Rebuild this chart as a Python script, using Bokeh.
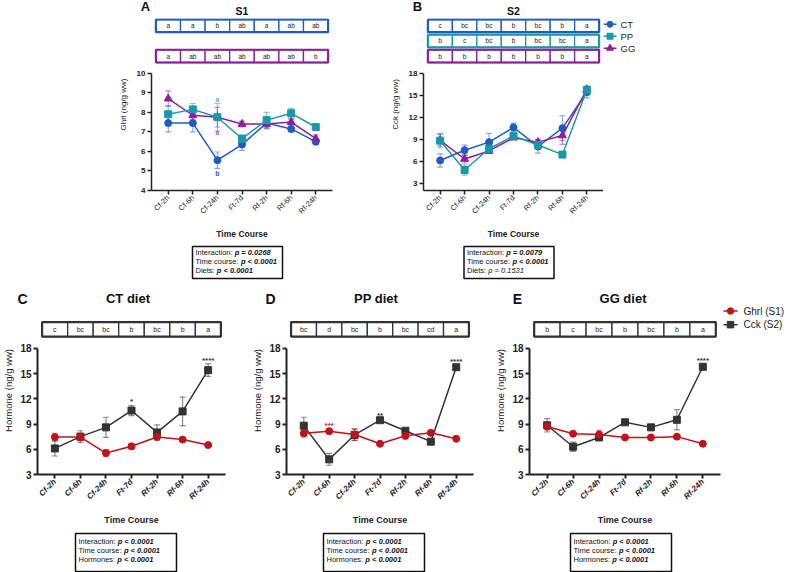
import math

from bokeh.core.properties import value
from bokeh.embed import file_html
from bokeh.layouts import column, row
from bokeh.models import ColumnDataSource, FixedTicker, Range1d, TeeHead, Whisker
from bokeh.plotting import figure
from bokeh.resources import INLINE

# ---------------------------------------------------------------- data
time_points = ["Cf-2h", "Cf-6h", "Cf-24h", "Ft-7d", "Rf-2h", "Rf-6h", "Rf-24h"]
diets = ["CT", "PP", "GG"]

# Ghrelin (S1), ng/g ww, mean and SEM
ghrl_ct = [7.45, 7.45, 5.55, 6.35, 7.45, 7.15, 6.5]
ghrl_ct_sem = [0.45, 0.45, 0.42, 0.3, 0.3, 0.15, 0.15]
ghrl_pp = [7.9, 8.15, 7.75, 6.65, 7.6, 7.95, 7.25]
ghrl_pp_sem = [0.45, 0.3, 0.7, 0.2, 0.4, 0.25, 0.1]
ghrl_gg = [8.7, 7.85, 7.75, 7.4, 7.4, 7.5, 6.65]
ghrl_gg_sem = [0.4, 0.2, 0.5, 0.15, 0.2, 0.15, 0.2]

# Cholecystokinin (S2), ng/g ww, mean and SEM
cck_ct = [6.1, 7.5, 8.6, 10.6, 8.0, 10.5, 15.4]
cck_ct_sem = [0.9, 0.7, 1.2, 0.6, 0.9, 1.7, 0.75]
cck_pp = [8.8, 4.8, 7.7, 9.45, 8.2, 6.9, 15.75]
cck_pp_sem = [1.0, 0.7, 0.65, 0.2, 0.2, 0.3, 0.3]
cck_gg = [8.85, 6.3, 7.4, 9.2, 8.6, 9.5, 15.8]
cck_gg_sem = [0.8, 0.55, 0.3, 0.2, 0.3, 1.2, 0.3]

# compact letter displays (time-course comparisons)
cld_s1_ct = ["a", "a", "b", "ab", "a", "ab", "ab"]
cld_s1_gg = ["a", "ab", "ab", "ab", "ab", "ab", "b"]
cld_s2_ct = ["c", "bc", "bc", "b", "bc", "b", "a"]
cld_s2_pp = ["b", "c", "bc", "b", "bc", "bc", "a"]
cld_s2_gg = ["b", "b", "b", "b", "b", "b", "a"]
cld_diet_ct = ["c", "bc", "bc", "b", "bc", "b", "a"]
cld_diet_pp = ["bc", "d", "bc", "b", "bc", "cd", "a"]
cld_diet_gg = ["b", "c", "bc", "b", "bc", "b", "a"]

# between-diet letters for ghrelin at Cf-24h: (diet, time index, letter, side)
s1_diet_letters = [("PP", 2, "a", "above"), ("GG", 2, "a", "below"), ("CT", 2, "b", "below")]

# Ghrl vs Cck significance stars per time point
stars_ghrl_ct = ["", "", "", "", "", "", ""]
stars_ghrl_pp = ["", "***", "", "", "", "", ""]
stars_ghrl_gg = ["", "", "", "", "", "", ""]
stars_cck_ct = ["", "", "", "*", "", "", "****"]
stars_cck_pp = ["", "", "", "**", "", "", "****"]
stars_cck_gg = ["", "", "", "", "", "", "****"]

# two-way ANOVA summaries
stats_s1 = [("Interaction: ", "p = 0.0268", "bold italic"),
            ("Time course: ", "p < 0.0001", "bold italic"),
            ("Diets: ", "p < 0.0001", "bold italic")]
stats_s2 = [("Interaction: ", "p = 0.0079", "bold italic"),
            ("Time course: ", "p < 0.0001", "bold italic"),
            ("Diets: ", "p = 0.1531", "italic")]
stats_diet = [("Interaction: ", "p < 0.0001", "bold italic"),
              ("Time course: ", "p < 0.0001", "bold italic"),
              ("Hormones: ", "p < 0.0001", "bold italic")]

# ---------------------------------------------------------------- style
FONT = "Liberation Sans"
BLUE = "#1f5cc0"
TEAL = "#1b98a8"
PURPLE = "#8d1f9b"
RED = "#c0121c"
DARK = "#333333"
AXIS = "#222222"

diet_color = {"CT": BLUE, "PP": TEAL, "GG": PURPLE}
diet_marker = {"CT": ("circle", 7), "PP": ("square", 7), "GG": ("triangle", 8)}

# Arial-metric advance widths (per 1000 em) for laying out mixed-style text
CHAR_W = {" ": 278, ":": 278, "I": 278, "T": 611, "D": 722, "H": 722, "a": 556,
          "c": 500, "e": 556, "i": 222, "m": 833, "n": 556, "o": 556, "r": 333,
          "s": 500, "t": 278, "u": 556}


def text_width(s, size):
    return sum(CHAR_W.get(ch, 556) for ch in s) * size / 1000.0


# figure geometry (px)
A_W, A_L, A_R = 385, 151, 53
B_W, B_L, B_R = 218, 38, 0
LEG_TOP_W = 790 - A_W - B_W
TOP_H, TOP_FRAME_H, TOP_GAP = 223, 176, 56
C_W, C_L, C_R = 249, 30, 24
D_W, D_L, D_R = 243, 29, 19
E_W, E_L, E_R = 229, 33, 1
LEG_BOT_W = 790 - C_W - D_W - E_W
BOT_H, BOT_FRAME_H, BOT_GAP = 222, 173, 43
X_PAD = 0.68


def frame_center(x0, w, left, right):
    return x0 + left + (w - left - right) / 2.0


def px_figure(w, h):
    p = figure(width=w, height=h, x_range=Range1d(0, w), y_range=Range1d(h, 0),
               x_axis_location=None, y_axis_location=None, toolbar_location=None,
               output_backend="svg", min_border_left=0, min_border_right=0,
               min_border_top=0, min_border_bottom=0)
    p.outline_line_color = None
    p.grid.visible = False
    p.xgrid.grid_line_color = None
    p.ygrid.grid_line_color = None
    return p


def panel_figure(w, h, left, right, frame_h, gap, y_lo, y_hi, y_ticks, y_label, big):
    top_val = y_hi + gap * (y_hi - y_lo) / (frame_h - gap)
    p = figure(width=w, height=h, x_range=Range1d(-X_PAD, len(time_points) - 1 + X_PAD),
               y_range=Range1d(y_lo, top_val), toolbar_location=None, output_backend="svg",
               min_border_left=left, min_border_right=right, min_border_top=0,
               min_border_bottom=h - frame_h)
    p.extra_y_ranges = {"px": Range1d(frame_h, 0)}
    p.grid.visible = False
    p.outline_line_color = None

    xa = p.xaxis[0]
    xa.ticker = FixedTicker(ticks=list(range(len(time_points))), minor_ticks=[])
    xa.major_label_overrides = {i: t for i, t in enumerate(time_points)}
    xa.major_label_orientation = math.pi / 4
    xa.axis_label = "Time Course"
    ya = p.yaxis[0]
    ya.ticker = FixedTicker(ticks=y_ticks, minor_ticks=[])
    ya.bounds = (y_lo, y_hi)
    ya.axis_label = y_label
    for ax in (xa, ya):
        ax.axis_line_color = AXIS
        ax.axis_line_width = 2 if big else 1.5
        ax.major_tick_line_color = AXIS
        ax.major_tick_line_width = 2 if big else 1.5
        ax.major_tick_in = 0
        ax.major_tick_out = 4
        ax.minor_tick_out = 0
        ax.major_label_text_font = FONT
        ax.major_label_text_color = AXIS
        ax.axis_label_text_font = FONT
        ax.axis_label_text_color = AXIS
        ax.major_label_standoff = 2
    xa.major_label_text_font_size = "8px" if big else "7.5px"
    xa.major_label_text_font_style = "bold italic" if big else "normal"
    xa.axis_label_text_font_size = "9px" if big else "8.5px"
    xa.axis_label_text_font_style = "bold"
    xa.axis_label_standoff = 8 if big else 7
    ya.major_label_text_font_size = "10px" if big else "8px"
    ya.major_label_text_font_style = "bold"
    ya.axis_label_text_font_size = "9.5px" if big else "8px"
    ya.axis_label_text_font_style = "normal"
    ya.axis_label_standoff = 3 if big else 6
    return p


def add_series(p, vals, errs, color, marker, size, err_alpha):
    xs = list(range(len(time_points)))
    src = ColumnDataSource(dict(x=xs, y=vals,
                                lo=[v - e for v, e in zip(vals, errs)],
                                hi=[v + e for v, e in zip(vals, errs)]))
    head = dict(size=6, line_color=color, line_alpha=err_alpha, line_width=1.2)
    p.add_layout(Whisker(source=src, base="x", upper="hi", lower="lo", line_color=color,
                         line_alpha=err_alpha, line_width=1.2,
                         upper_head=TeeHead(**head), lower_head=TeeHead(**head)))
    p.line("x", "y", source=src, line_color=color, line_width=1.5)
    p.scatter("x", "y", source=src, marker=marker, size=size, fill_color=color,
              line_color=color)


def add_letter_row(p, letters, color, top, h, font_size):
    xs = list(range(len(letters)))
    n = len(letters)
    p.quad(left=[x - 0.5 for x in xs], right=[x + 0.5 for x in xs], top=[top] * n,
           bottom=[top + h] * n, y_range_name="px", fill_color="white",
           line_color=color, line_width=1.3)
    p.quad(left=[-0.5], right=[n - 0.5], top=[top], bottom=[top + h], y_range_name="px",
           fill_color=None, line_color=color, line_width=2.2)
    p.text(x=xs, y=[top + h / 2.0] * n, text=letters, y_range_name="px",
           text_font=value(FONT), text_font_size=font_size, text_align="center",
           text_baseline="middle", text_color="#222222")


def add_stars(p, vals, errs, stars, color):
    idx = [i for i, s in enumerate(stars) if s]
    if not idx:
        return
    p.text(x=idx, y=[vals[i] + errs[i] for i in idx], text=[stars[i] for i in idx],
           text_font=value(FONT), text_font_size="8px", text_font_style="bold",
           text_align="center", text_baseline="bottom", text_color=color, y_offset=1)


def add_stats_box(p, x_left, width, top, bottom, lines, line_ys, size):
    p.quad(left=[x_left], right=[x_left + width], top=[top], bottom=[bottom],
           fill_color="white", line_color="#111111", line_width=1.5)
    for (label, val, style), y in zip(lines, line_ys):
        x0 = x_left + 3
        p.text(x=[x0], y=[y], text=[label], text_font=value(FONT),
               text_font_size=f"{size}px", text_baseline="middle", text_align="left",
               text_color="#111111")
        p.text(x=[x0 + text_width(label, size)], y=[y], text=[val], text_font=value(FONT),
               text_font_size=f"{size}px", text_font_style=style, text_baseline="middle",
               text_align="left", text_color="#111111")


# ---------------------------------------------------------------- top: S1 / S2 by diet
ghrl = {"CT": (ghrl_ct, ghrl_ct_sem), "PP": (ghrl_pp, ghrl_pp_sem), "GG": (ghrl_gg, ghrl_gg_sem)}
cck = {"CT": (cck_ct, cck_ct_sem), "PP": (cck_pp, cck_pp_sem), "GG": (cck_gg, cck_gg_sem)}
ROW_TOPS = {"CT": 1, "PP": 16.5, "GG": 32}
ROW_H = 13

fig_a = panel_figure(A_W, TOP_H, A_L, A_R, TOP_FRAME_H, TOP_GAP, 4, 10,
                     [4, 5, 6, 7, 8, 9, 10], "Ghrl (ng/g ww)", False)
add_letter_row(fig_a, cld_s1_ct, BLUE, ROW_TOPS["CT"], ROW_H, "6.5px")
add_letter_row(fig_a, cld_s1_gg, PURPLE, ROW_TOPS["GG"], ROW_H, "6.5px")
for d in ["CT", "GG", "PP"]:
    m, s = diet_marker[d]
    add_series(fig_a, ghrl[d][0], ghrl[d][1], diet_color[d], m, s, 0.5)
for d, i, letter, side in s1_diet_letters:
    vals, errs = ghrl[d]
    above = side == "above"
    fig_a.text(x=[i], y=[vals[i] + errs[i] if above else vals[i] - errs[i]], text=[letter],
               text_font=value(FONT), text_font_size="7px", text_font_style="bold",
               text_align="center", text_baseline="bottom" if above else "top",
               y_offset=-1 if above else 2, text_color=diet_color[d],
               text_alpha=0.75 if d != "CT" else 1.0)

fig_b = panel_figure(B_W, TOP_H, B_L, B_R, TOP_FRAME_H, TOP_GAP, 2, 18,
                     [3, 6, 9, 12, 15, 18], "Cck (ng/g ww)", False)
add_letter_row(fig_b, cld_s2_ct, BLUE, ROW_TOPS["CT"], ROW_H, "6.5px")
add_letter_row(fig_b, cld_s2_pp, TEAL, ROW_TOPS["PP"], ROW_H, "6.5px")
add_letter_row(fig_b, cld_s2_gg, PURPLE, ROW_TOPS["GG"], ROW_H, "6.5px")
for d in ["CT", "GG", "PP"]:
    m, s = diet_marker[d]
    add_series(fig_b, cck[d][0], cck[d][1], diet_color[d], m, s, 0.5)

leg_top = px_figure(LEG_TOP_W, TOP_H)
for d in diets:
    y = ROW_TOPS[d] + ROW_H / 2.0
    m, s = diet_marker[d]
    leg_top.line(x=[0, 13], y=[y, y], line_color=diet_color[d], line_width=1.5)
    leg_top.scatter(x=[6.5], y=[y], marker=m, size=s - 1, fill_color=diet_color[d],
                    line_color=diet_color[d])
    leg_top.text(x=[17], y=[y], text=[d], text_font=value(FONT), text_font_size="9.5px",
                 text_baseline="middle", text_align="left", text_color="#222222")

# headers / footers of the top row
a_cx = frame_center(0, A_W, A_L, A_R)
b_cx = frame_center(A_W, B_W, B_L, B_R)
head_top = px_figure(790, 18)
head_top.text(x=[A_L - 6, A_W + B_L - 6], y=[6, 6], text=["A", "B"], text_font=value(FONT),
              text_font_size="13px", text_font_style="bold", text_align="center",
              text_baseline="middle", text_color="#111111")
head_top.text(x=[a_cx, b_cx], y=[10, 10], text=["S1", "S2"], text_font=value(FONT),
              text_font_size="10.5px", text_font_style="bold", text_align="center",
              text_baseline="middle", text_color="#111111")

foot_top = px_figure(790, 49)
add_stats_box(foot_top, a_cx - 4.5 - 45, 90, 5, 37, stats_s1, [11, 20, 29], 7.5)
add_stats_box(foot_top, b_cx - 4.5 - 45, 90, 5, 37, stats_s2, [11, 20, 29], 7.5)

# ---------------------------------------------------------------- bottom: Ghrl vs Cck per diet
stars_ghrl = {"CT": stars_ghrl_ct, "PP": stars_ghrl_pp, "GG": stars_ghrl_gg}
stars_cck = {"CT": stars_cck_ct, "PP": stars_cck_pp, "GG": stars_cck_gg}
cld_diet = {"CT": cld_diet_ct, "PP": cld_diet_pp, "GG": cld_diet_gg}
geom = {"CT": (C_W, C_L, C_R), "PP": (D_W, D_L, D_R), "GG": (E_W, E_L, E_R)}

diet_figs = []
for d in diets:
    w, l, r = geom[d]
    p = panel_figure(w, BOT_H, l, r, BOT_FRAME_H, BOT_GAP, 3, 18,
                     [3, 6, 9, 12, 15, 18], "Hormone (ng/g ww)", True)
    add_letter_row(p, cld_diet[d], DARK, 16, 15, "7px")
    add_series(p, cck[d][0], cck[d][1], DARK, "square", 7, 0.55)
    add_series(p, ghrl[d][0], ghrl[d][1], RED, "circle", 7, 0.5)
    add_stars(p, cck[d][0], cck[d][1], stars_cck[d], DARK)
    add_stars(p, ghrl[d][0], ghrl[d][1], stars_ghrl[d], RED)
    diet_figs.append(p)

leg_bot = px_figure(LEG_BOT_W, BOT_H)
for label, color, marker, y in [("Ghrl (S1)", RED, "circle", 6), ("Cck (S2)", DARK, "square", 24)]:
    leg_bot.line(x=[2, 16], y=[y, y], line_color=color, line_width=1.5)
    leg_bot.scatter(x=[9], y=[y], marker=marker, size=6.5, fill_color=color, line_color=color)
    leg_bot.text(x=[22], y=[y], text=[label], text_font=value(FONT), text_font_size="10px",
                 text_baseline="middle", text_align="left", text_color="#222222")

x0s = {"CT": 0, "PP": C_W, "GG": C_W + D_W}
centers = {d: frame_center(x0s[d], *geom[d]) for d in diets}
letters = {"CT": "C", "PP": "D", "GG": "E"}

head_bot = px_figure(790, 16)
for d in diets:
    w, l, r = geom[d]
    head_bot.text(x=[x0s[d] + l - 8], y=[8], text=[letters[d]], text_font=value(FONT),
                  text_font_size="14px", text_font_style="bold", text_align="center",
                  text_baseline="middle", text_color="#111111")
    head_bot.text(x=[centers[d]], y=[7.5], text=[f"{d} diet"], text_font=value(FONT),
                  text_font_size="13px", text_font_style="bold", text_align="center",
                  text_baseline="middle", text_color="#111111")

foot_bot = px_figure(790, 44)
for d in diets:
    add_stats_box(foot_bot, centers[d] - 2 - 50.5, 101, 5, 43, stats_diet, [13, 22, 31], 7.5)

layout = column(
    head_top,
    row(fig_a, fig_b, leg_top),
    foot_top,
    head_bot,
    row(*diet_figs, leg_bot),
    foot_bot,
)

open("out.html", "w").write(file_html(layout, INLINE))
